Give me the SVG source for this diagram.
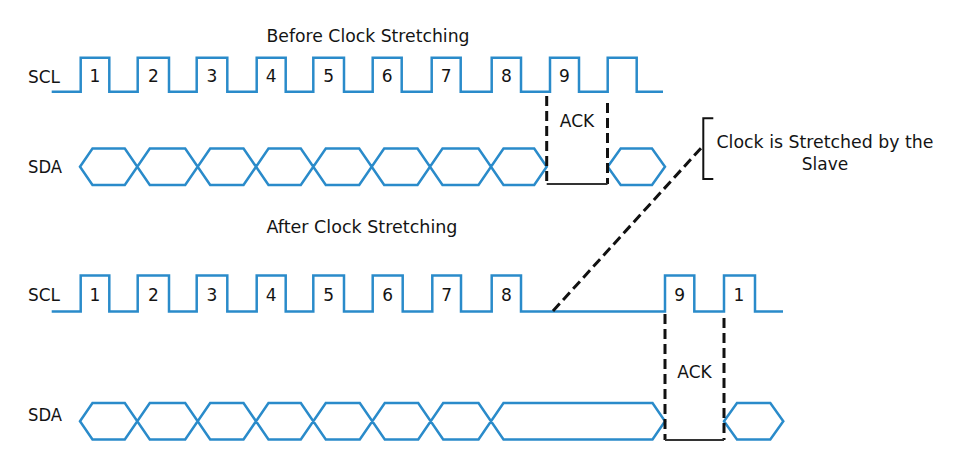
<svg xmlns="http://www.w3.org/2000/svg" width="966" height="471" viewBox="0 0 966 471">
<style>
text{font-family:"DejaVu Sans","Liberation Sans",sans-serif;fill:#141414;font-size:17px}
.mid{text-anchor:middle}
.wave{fill:none;stroke:#2a8bca;stroke-width:2.5;stroke-linejoin:miter}
.dash{fill:none;stroke:#111;stroke-width:3;stroke-dasharray:10 5}
.solid{fill:none;stroke:#333;stroke-width:2}
</style>
<rect width="966" height="471" fill="#fff"/>
<g id="titles">
<text x="368" y="41.5" class="mid" textLength="203" lengthAdjust="spacingAndGlyphs">Before Clock Stretching</text>
<text x="362" y="233" class="mid" textLength="191" lengthAdjust="spacingAndGlyphs">After Clock Stretching</text>
</g>
<g id="top-scl">
<text x="28" y="82.7" textLength="32" lengthAdjust="spacingAndGlyphs">SCL</text>
<path class="wave" d="M51.7 91.7H80.7V57.7H109.3V91.7H137.7V57.7H169V91.7H196.7V57.7H227.3V91.7H256.7V57.7H285.7V91.7H313.3V57.7H344V91.7H372.7V57.7H401.7V91.7H431.7V57.7H460.7V91.7H491.7V57.7H521V91.7H550V57.7H579V91.7H607.7V57.7H636.7V91.7H663"/>
<text x="95" y="81.7" class="mid">1</text>
<text x="153.3" y="81.7" class="mid">2</text>
<text x="212" y="81.7" class="mid">3</text>
<text x="271.2" y="81.7" class="mid">4</text>
<text x="328.7" y="81.7" class="mid">5</text>
<text x="387.2" y="81.7" class="mid">6</text>
<text x="446.2" y="81.7" class="mid">7</text>
<text x="506.3" y="81.7" class="mid">8</text>
<text x="564.5" y="81.7" class="mid">9</text>
</g>
<g id="top-sda">
<text x="28" y="173.3" textLength="34" lengthAdjust="spacingAndGlyphs">SDA</text>
<path class="wave" d="M80 166.7L92.5 148.5H124.8L149.8 185H185.2L210.2 148.5H243.5L268.5 185H300.8L325.8 148.5H359.2L384.2 185H417.5L442.5 148.5H478.5L503.5 185H534.2L546.7 166.7L534.2 148.5H503.5L478.5 185H442.5L417.5 148.5H384.2L359.2 185H325.8L300.8 148.5H268.5L243.5 185H210.2L185.2 148.5H149.8L124.8 185H92.5Z"/>
<path class="wave" d="M607.7 166.7L620.7 148.5H652L665 166.7L652 185H620.7Z"/>
</g>
<g id="top-ack">
<path class="dash" d="M546.7 96V184M607.5 103V184"/>
<path class="solid" d="M546.7 184H607.5"/>
<text x="577" y="127.3" class="mid">ACK</text>
</g>
<g id="bottom-scl">
<text x="28" y="300.7" textLength="32" lengthAdjust="spacingAndGlyphs">SCL</text>
<path class="wave" d="M51.7 311.5H80.7V275.5H109.3V311.5H137.7V275.5H169V311.5H196.7V275.5H227.3V311.5H256.7V275.5H285.7V311.5H313.3V275.5H344V311.5H372.7V275.5H402.7V311.5H432.3V275.5H461V311.5H491.7V275.5H521V311.5H665V275.5H694.3V311.5H724V275.5H755V311.5H783"/>
<text x="95" y="300.7" class="mid">1</text>
<text x="153.3" y="300.7" class="mid">2</text>
<text x="212" y="300.7" class="mid">3</text>
<text x="271.2" y="300.7" class="mid">4</text>
<text x="328.7" y="300.7" class="mid">5</text>
<text x="387.7" y="300.7" class="mid">6</text>
<text x="446.7" y="300.7" class="mid">7</text>
<text x="506.3" y="300.7" class="mid">8</text>
<text x="679.7" y="300.7" class="mid">9</text>
<text x="739" y="300.7" class="mid">1</text>
</g>
<g id="bottom-sda">
<text x="28" y="420.7" textLength="34" lengthAdjust="spacingAndGlyphs">SDA</text>
<path class="wave" d="M80 421.2L92.5 403H124.8L149.8 439.5H185.2L210.2 403H243.5L268.5 439.5H300.8L325.8 403H359.8L384.8 439.5H418.2L443.2 403H478.5L503.5 439.5H652.5L665 421.2L652.5 403H503.5L478.5 439.5H443.2L418.2 403H384.8L359.8 439.5H325.8L300.8 403H268.5L243.5 439.5H210.2L185.2 403H149.8L124.8 439.5H92.5Z"/>
<path class="wave" d="M724 421.2L737 403H770.3L783.3 421.2L770.3 439.5H737Z"/>
</g>
<g id="bottom-ack">
<path class="dash" d="M665 314V440M724 318V440"/>
<path class="solid" d="M665 440H724"/>
<text x="694.5" y="378.3" class="mid">ACK</text>
</g>
<g id="stretch-note">
<path class="solid" d="M713.3 118.3H703.3V179H713.3" style="stroke:#111"/>
<text x="825" y="147.5" class="mid" textLength="217" lengthAdjust="spacingAndGlyphs">Clock is Stretched by the</text>
<text x="825" y="170" class="mid">Slave</text>
</g>
<g id="connectors">
<path class="dash" stroke-dasharray="8 5" d="M553 311L702 147"/>
</g>
</svg>
